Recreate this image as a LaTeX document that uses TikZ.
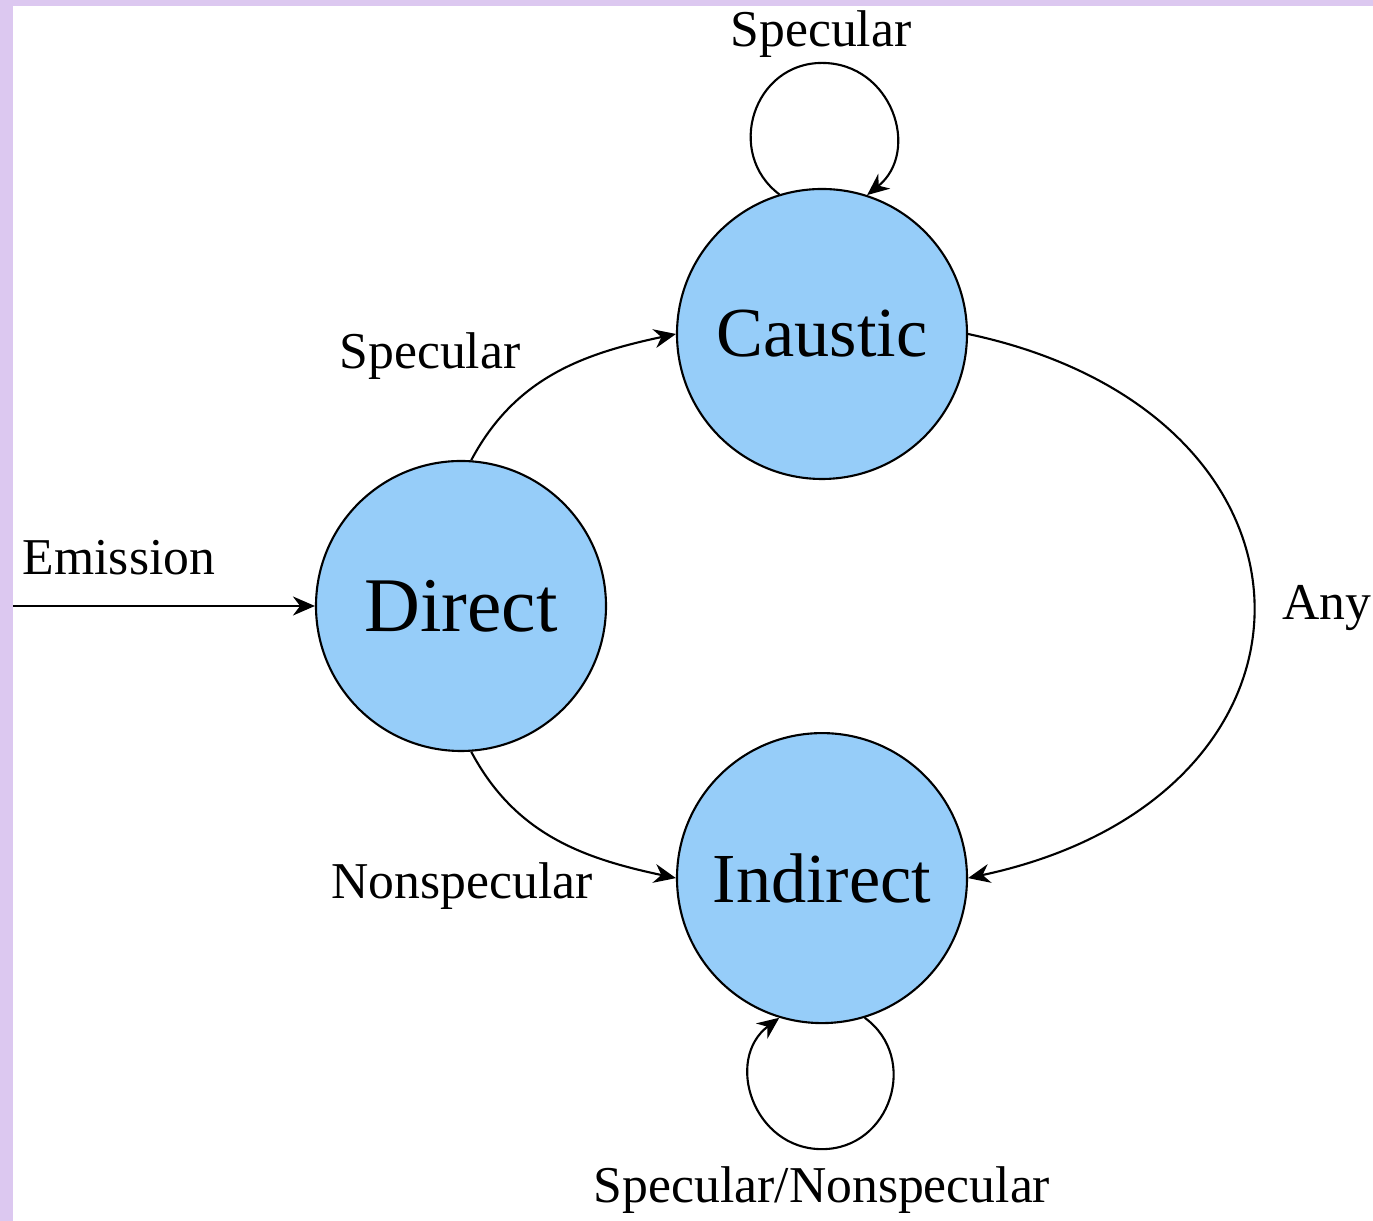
\documentclass[tikz,border=0pt]{standalone}
\usepackage{fontspec}
\setmainfont{Liberation Serif}
\usetikzlibrary{arrows.meta,positioning}
\definecolor{stateblue}{HTML}{96CDF9}
\definecolor{paperlilac}{HTML}{DCC8F0}

\begin{document}
\begin{tikzpicture}[
  state/.style={circle, draw=black, fill=stateblue, line width=0.6pt, minimum size=29mm, inner sep=0pt, font=\fontsize{20}{24}\selectfont},
  lbl/.style={anchor=base, inner sep=0pt, font=\fontsize{14.7}{17}\selectfont},
  arr/.style={-{Stealth[length=2.2mm,width=1.9mm]}, line width=0.6pt}
]
\useasboundingbox (0,0) rectangle (13.73,12.21);
% lilac frame on the left and top edge
\fill[paperlilac] (0,0) rectangle (13.73,12.21);
\fill[white] (0.13,0) rectangle (13.73,12.15);

\node[state, font=\fontsize{22}{26}\selectfont] (direct) at (4.61,6.15) {Direct};
\node[state] (caustic) at (8.22,8.87) {Caustic};
\node[state, below=25.2mm of caustic] (indirect) {Indirect};
\coordinate (emit) at (0.13,6.15);

\draw[arr] (emit) -- (direct);
\draw[arr] (direct.86) to[out=62,in=-168] (caustic.west);
\draw[arr] (direct.-86) to[out=-62,in=168] (indirect.west);
\draw[arr] (caustic.east) to[out=-12,in=12,looseness=1.83] (indirect.east);
% self loops
\draw[arr] (caustic.107) to[out=143,in=180,looseness=1.27] ([yshift=12.5mm]caustic.north)
  to[out=0,in=39,looseness=1.28] (caustic.72);
\draw[arr] (indirect.-73) to[out=-36,in=0,looseness=1.27] ([yshift=-12.5mm]indirect.south)
  to[out=180,in=217,looseness=1.28] (indirect.-107);

\node[lbl] (emitlbl) at (1.19,6.46) {Emission};
\node[lbl] (speclbl) at (4.30,8.52) {Specular};
\node[lbl] (nonspeclbl) at (4.62,3.22) {Nonspecular};
\node[lbl] (anylbl) at (13.27,6.01) {Any};
\node[lbl] (looplbl) at (8.21,11.74) {Specular};
\node[lbl] (bothlbl) at (8.22,0.18) {Specular/Nonspecular};
\end{tikzpicture}
\end{document}
